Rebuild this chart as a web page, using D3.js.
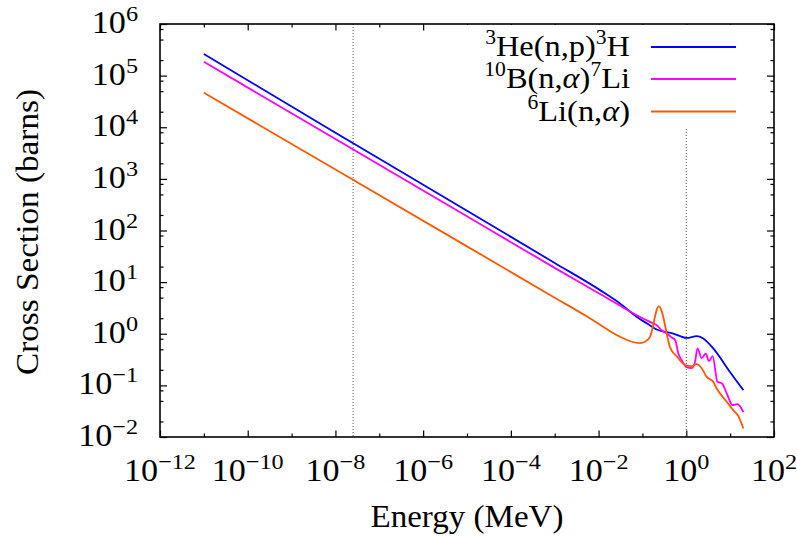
<!DOCTYPE html>
<html>
<head>
<meta charset="utf-8">
<script src="https://cdn.jsdelivr.net/npm/d3@7"></script>
<style>
  body { margin: 0; background: #fff; }
  svg { display: block; font-family: "Liberation Serif", "DejaVu Serif", serif; }
</style>
</head>
<body>
<div id="chart"></div>
<script>
// energies in MeV, cross sections in barns
var heE  = [1e-11, 1e-8, 1e-5, 1e-3, 0.0108, 0.0308, 0.074, 0.149, 0.211, 0.505, 1.02, 1.73, 2.44, 4.12, 10, 20];
var heXS = [2.62e5, 7.8e3, 242, 23.5, 7.0, 3.86, 2.13, 1.45, 1.21, 1.01, 0.83, 0.90, 0.81, 0.52, 0.18, 0.081];

var bE  = [1e-11, 1e-8, 1e-5, 1e-3, 0.0108, 0.074, 0.149, 0.211, 0.275, 0.357, 0.464, 0.56, 0.656, 0.80, 1.02, 1.33, 1.58, 1.80, 2.24, 2.78, 3.29, 3.99, 5.14, 6.51, 8.68, 11.3, 14.7, 20];
var bXS = [1.86e5, 5.9e3, 188, 18.9, 5.9, 2.29, 1.70, 1.47, 1.17, 1.01, 0.85, 0.75, 0.42, 0.30, 0.225, 0.215, 0.285, 0.52, 0.336, 0.415, 0.294, 0.368, 0.117, 0.109, 0.0646, 0.0413, 0.0432, 0.0303];

var liE  = [1e-11, 1e-8, 1e-5, 1e-3, 0.005, 0.01, 0.0182, 0.036, 0.0577, 0.0879, 0.114, 0.149, 0.174, 0.193, 0.214, 0.238, 0.264, 0.298, 0.344, 0.425, 0.613, 0.957, 1.33, 1.73, 2.24, 2.92, 4.12, 4.93, 8.34, 11.8, 15.4, 20];
var liXS = [4.67e4, 1.52e3, 49.3, 5.0, 2.25, 1.56, 1.12, 0.82, 0.70, 0.66, 0.70, 0.87, 1.40, 2.13, 3.0, 3.43, 3.0, 2.13, 1.18, 0.55, 0.36, 0.246, 0.235, 0.257, 0.215, 0.146, 0.117, 0.087, 0.0483, 0.033, 0.0253, 0.0146];

var seriesColors = ["#0000ff", "#ff00ff", "#ff5a00"];

var thermalE = 2.53e-8;   // dotted marker lines
var fastE = 1;

var xMajor = [1e-12, 1e-10, 1e-8, 1e-6, 1e-4, 1e-2, 1e0, 1e2];
var xMajorExp = ["−12", "−10", "−8", "−6", "−4", "−2", "0", "2"];
var xMinor = [1e-11, 1e-9, 1e-7, 1e-5, 1e-3, 1e-1, 1e1];
var yMajor = [1e-2, 1e-1, 1e0, 1e1, 1e2, 1e3, 1e4, 1e5, 1e6];
var yMajorExp = ["−2", "−1", "0", "1", "2", "3", "4", "5", "6"];

function drawChart() {
    let width = 797, height = 538;
    let pl = 160, pr = 774, pt = 24, pb = 437;
    let sx = 1.1; // stretch text a bit horizontally (CM is wider)

    let svg = d3.select("#chart").append("svg")
        .attr("width", width)
        .attr("height", height);

    let x = d3.scaleLog().domain([1e-12, 1e2]).range([pl, pr]);
    let y = d3.scaleLog().domain([1e-2, 1e6]).range([pb, pt]);

    // minor y ticks at 2, 5, 8 per decade
    let yMinor = [];
    for (let d = -2; d < 6; d++) {
        [2, 5, 8].forEach(m => yMinor.push(m * Math.pow(10, d)));
    }

    // ticks (inward, on all four sides)
    function ticks(axis, vals, size) {
        return axis.tickValues(vals).tickSizeInner(size).tickSizeOuter(0).tickFormat("");
    }
    let tickG = svg.append("g").attr("class", "ticks");
    tickG.append("g").attr("transform", `translate(0,${pb})`).call(ticks(d3.axisBottom(x), xMajor, -6.5));
    tickG.append("g").attr("transform", `translate(0,${pb})`).call(ticks(d3.axisBottom(x), xMinor, -3.5));
    tickG.append("g").attr("transform", `translate(0,${pt})`).call(ticks(d3.axisTop(x), xMajor, -6.5));
    tickG.append("g").attr("transform", `translate(0,${pt})`).call(ticks(d3.axisTop(x), xMinor, -3.5));
    tickG.append("g").attr("transform", `translate(${pl},0)`).call(ticks(d3.axisLeft(y), yMajor, -7));
    tickG.append("g").attr("transform", `translate(${pl},0)`).call(ticks(d3.axisLeft(y), yMinor, -3.5));
    tickG.append("g").attr("transform", `translate(${pr},0)`).call(ticks(d3.axisRight(y), yMajor, -7));
    tickG.append("g").attr("transform", `translate(${pr},0)`).call(ticks(d3.axisRight(y), yMinor, -3.5));
    tickG.selectAll(".domain").remove();
    tickG.selectAll("line").attr("stroke", "#000").attr("stroke-width", 1.2);

    // dotted reference lines
    [thermalE, fastE].forEach(e => {
        svg.append("line")
            .attr("x1", x(e)).attr("x2", x(e))
            .attr("y1", pt).attr("y2", pb)
            .attr("stroke", "#555")
            .attr("stroke-width", 1)
            .attr("stroke-dasharray", "1,2");
    });

    // opaque key background
    svg.append("rect")
        .attr("x", 465).attr("y", pt + 1)
        .attr("width", 290).attr("height", 102)
        .attr("fill", "#fff");

    // curves
    let line = d3.line()
        .x(d => x(d[0]))
        .y(d => y(d[1]))
        .curve(d3.curveMonotoneX);

    let series = [
        d3.zip(heE, heXS),
        d3.zip(bE, bXS),
        d3.zip(liE, liXS)
    ];

    svg.selectAll(".curve")
        .data(series)
        .enter().append("path")
        .attr("class", "curve")
        .attr("d", line)
        .attr("fill", "none")
        .attr("stroke", (d, i) => seriesColors[i])
        .attr("stroke-width", 1.8)
        .attr("stroke-linejoin", "round");

    // frame
    svg.append("rect")
        .attr("x", pl).attr("y", pt)
        .attr("width", pr - pl).attr("height", pb - pt)
        .attr("fill", "none")
        .attr("stroke", "#000")
        .attr("stroke-width", 1.6);

    // tick labels as 10^n
    function power(sel, exp) {
        sel.append("tspan").text("10");
        sel.append("tspan")
            .attr("dy", -12)
            .style("font-size", "22px")
            .text(exp);
    }

    xMajor.forEach((v, i) => {
        svg.append("g")
            .attr("transform", `translate(${x(v)},481) scale(${sx},1)`)
            .append("text")
            .attr("text-anchor", "middle")
            .style("font-size", "31px")
            .call(power, xMajorExp[i]);
    });

    yMajor.forEach((v, i) => {
        svg.append("g")
            .attr("transform", `translate(138,${y(v) + 9}) scale(${sx},1)`)
            .append("text")
            .attr("text-anchor", "end")
            .style("font-size", "31px")
            .call(power, yMajorExp[i]);
    });

    // axis titles
    svg.append("text")
        .attr("x", 467).attr("y", 527)
        .attr("text-anchor", "middle")
        .attr("textLength", 193)
        .attr("lengthAdjust", "spacingAndGlyphs")
        .style("font-size", "31px")
        .text("Energy (MeV)");

    svg.append("text")
        .attr("transform", "translate(38,232) rotate(-90)")
        .attr("text-anchor", "middle")
        .attr("textLength", 286)
        .attr("lengthAdjust", "spacingAndGlyphs")
        .style("font-size", "31px")
        .text("Cross Section (barns)");

    // legend
    let legendParts = [
        [["3", true], ["He(n,p)", false], ["3", true], ["H", false]],
        [["10", true], ["B(n,", false], ["α", "it"], [")", false], ["7", true], ["Li", false]],
        [["6", true], ["Li(n,", false], ["α", "it"], [")", false]]
    ];
    let legendY = [47, 79, 111.5];

    legendParts.forEach((parts, i) => {
        let t = svg.append("g")
            .attr("transform", `translate(630,${legendY[i] + 9}) scale(1.08,1)`)
            .append("text")
            .attr("text-anchor", "end")
            .style("font-size", "30px");
        let up = false;
        parts.forEach(p => {
            let s = t.append("tspan").text(p[0]);
            if (p[1] === true) {
                s.style("font-size", "20px").attr("dy", up ? 0 : -12);
                up = true;
            } else {
                if (up) s.attr("dy", 12);
                up = false;
                if (p[1] === "it") s.style("font-style", "italic");
            }
        });
        svg.append("line")
            .attr("x1", 651).attr("x2", 736)
            .attr("y1", legendY[i]).attr("y2", legendY[i])
            .attr("stroke", seriesColors[i])
            .attr("stroke-width", 1.8);
    });
}

drawChart();
</script>
</body>
</html>
